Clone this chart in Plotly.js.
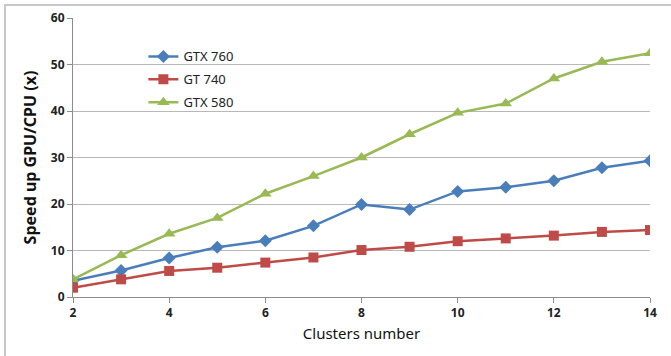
<!DOCTYPE html>
<html>
<head>
<meta charset="utf-8">
<script src="https://cdn.plot.ly/plotly-3.0.1.min.js"></script>
<style>
html,body{margin:0;padding:0;background:#fff;}
#wrap{position:relative;width:671px;height:356px;}
#chart{width:671px;height:356px;}
#frame{position:absolute;left:4px;top:4px;width:667px;height:352px;border-left:2px solid #c8c8c8;border-top:2px solid #c8c8c8;pointer-events:none;box-sizing:border-box;}
</style>
</head>
<body>
<div id="wrap"><div id="chart"></div><div id="frame"></div></div>
<script>
const clusters = [2,3,4,5,6,7,8,9,10,11,12,13,14];
const gtx760 = [3.5,5.7,8.4,10.7,12.1,15.3,19.9,18.8,22.7,23.6,25.0,27.8,29.3];
const gt740 = [2.0,3.8,5.6,6.3,7.4,8.5,10.1,10.8,12.0,12.6,13.2,14.0,14.4];
const gtx580 = [3.8,9.0,13.6,17.0,22.2,26.0,30.0,35.0,39.6,41.6,47.0,50.6,52.4];
const seriesNames = ['GTX 760','GT 740','GTX 580'];

const traces = [
  {x:clusters,y:gtx760,name:seriesNames[0],legendgroup:'a',mode:'lines+markers',
   line:{color:'#4a7ebb',width:2.5},marker:{symbol:'diamond',size:10,color:'#4a7ebb'}},
  {x:clusters,y:gt740,name:seriesNames[1],legendgroup:'b',mode:'lines+markers',
   line:{color:'#be4b48',width:2.5},marker:{symbol:'square',size:10,color:'#be4b48'}},
  {x:clusters,y:gtx580,name:seriesNames[2],legendgroup:'c',mode:'lines+markers',
   line:{color:'#98b954',width:2.5},marker:{symbol:'triangle-up',size:11,color:'#98b954'}}
];

const layout = {
  width:671,height:356,
  margin:{l:73,r:21,t:18,b:59},
  paper_bgcolor:'#fff',plot_bgcolor:'#fff',
  showlegend:true,
  legend:{x:0.122,y:0.916,xanchor:'left',yanchor:'top',bgcolor:'rgba(0,0,0,0)',traceorder:'grouped',
    font:{family:'Noto Sans, sans-serif',size:13,color:'#222'},tracegroupgap:3,itemwidth:30},
  xaxis:{range:[2,14],tickvals:[2,4,6,8,10,12,14],showgrid:false,zeroline:false,
    showline:true,linecolor:'#8c8c8c',linewidth:1,ticks:'outside',ticklen:5,tickcolor:'#8c8c8c',
    tickfont:{family:'Noto Sans, sans-serif',size:12,color:'#222',weight:'bold'},
    title:{text:'Clusters number',font:{family:'Noto Sans, sans-serif',size:15,color:'#111'},standoff:8}},
  yaxis:{range:[0,60],dtick:10,showgrid:true,gridcolor:'#b8b8b8',gridwidth:1,zeroline:false,
    showline:true,linecolor:'#8c8c8c',linewidth:1,ticks:'outside',ticklen:5,tickcolor:'#8c8c8c',
    tickfont:{family:'Noto Sans, sans-serif',size:12,color:'#222',weight:'bold'},
    title:{text:'Speed up GPU/CPU (x)',font:{family:'Noto Sans, sans-serif',size:16,color:'#111',weight:'bold'},standoff:10}}
};
Plotly.newPlot('chart',traces,layout,{displayModeBar:false,staticPlot:true});
</script>
</body>
</html>
